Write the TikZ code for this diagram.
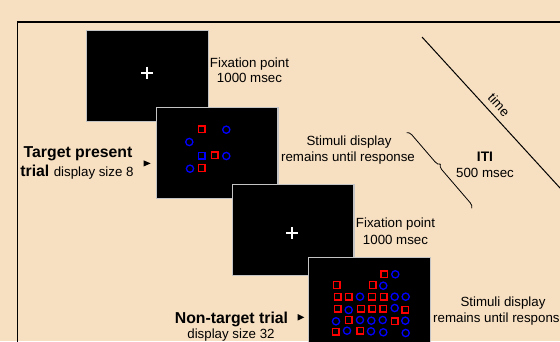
\documentclass[tikz,border=0pt]{standalone}
\usepackage{fontspec}
\setmainfont{Liberation Sans}
\usetikzlibrary{decorations.pathreplacing}
\definecolor{bg}{HTML}{F7DFC1}
\definecolor{scrborder}{HTML}{C4C4C4}
\definecolor{stimred}{HTML}{FF0000}
\definecolor{stimblue}{HTML}{0000FF}
\begin{document}
\begin{tikzpicture}[x=1pt,y=-1pt,
  screen/.style={draw=scrborder,fill=black,line width=1.2pt,minimum width=121.8pt,minimum height=90.8pt,inner sep=0pt},
  lbl/.style={font=\fontsize{13.3}{16}\selectfont,inner sep=0pt,anchor=base},
  blbl/.style={font=\fontsize{15.8}{18}\selectfont\bfseries,inner sep=0pt,anchor=base},
  sqr/.style={draw=stimred,line width=1.3pt},
  sqb/.style={draw=stimblue,line width=1.3pt},
  cir/.style={draw=stimblue,line width=1.3pt},
  crossline/.style={draw=white,line width=1.8pt},
  frame/.style={line width=1.3pt},
  timeline/.style={line width=1pt}]
\useasboundingbox (0,0) rectangle (560,341);
\clip (0,0) rectangle (560,341);
\fill[bg] (0,0) rectangle (560,341);
% frame
\draw[frame] (17.3,345) -- (17.3,22) -- (565,22);
% screens
\node[screen] (s1) at (147.5,76) {};
\draw[crossline] (141.3,72.7) -- (153.3,72.7) (147.3,66.7) -- (147.3,78.7);
\node[screen] (s2) at (217,153) {};
\foreach \x/\y in {201.7/129.3, 214.7/155.3, 201.7/168}
  \draw[sqr] (\x-3.4,\y-3.4) rectangle (\x+3.4,\y+3.4);
\foreach \x/\y in {201.7/155.7}
  \draw[sqb] (\x-3.4,\y-3.4) rectangle (\x+3.4,\y+3.4);
\foreach \x/\y in {226.3/129.7, 189.3/142, 226.3/156, 190/168.7}
  \draw[cir] (\x,\y) circle[radius=3.6pt];
\node[screen] (s3) at (293,230) {};
\draw[crossline] (286.3,233.3) -- (298.3,233.3) (292.3,227.3) -- (292.3,239.3);
\node[screen] (s4) at (369.5,303) {};
\foreach \x/\y in {384.3/274.3, 336.7/285, 372.7/285, 337.7/296.7, 348.7/296.7, 372/296.7, 383.7/296.7,
  337.7/308.7, 361/308.7, 372.3/308.7, 383.3/308.7, 405.3/309.7, 348.7/320, 394.7/321.3, 335.7/331.7, 360.3/330.7}
  \draw[sqr] (\x-3.4,\y-3.4) rectangle (\x+3.4,\y+3.4);
\foreach \x/\y in {395.3/274.3, 383.3/285.7, 360/296.7, 394.7/296.7, 405.7/296.7, 348.7/310, 394.7/308,
  336/321.3, 360/320, 371.3/320.7, 382.7/320, 405.3/320.7, 347/330.7, 371/331.3, 383.3/332.3, 405.7/333}
  \draw[cir] (\x,\y) circle[radius=3.6pt];
% texts
\node[lbl] (f1a) at (249.5,67) {Fixation point};
\node[lbl] (f1b) at (249.5,82.5) {1000 msec};
\node[lbl] (d1a) at (349,145.5) {Stimuli display};
\node[lbl] (d1b) at (348,161.3) {remains until response};
\node[lbl,font=\fontsize{13.8}{16}\selectfont\bfseries] (iti) at (485,161.5) {ITI};
\node[lbl] (itims) at (485,177) {500 msec};
\node[lbl] (f2a) at (395.5,227.7) {Fixation point};
\node[lbl] (f2b) at (395.5,244) {1000 msec};
\node[lbl] (d2a) at (503,306.5) {Stimuli display};
\node[lbl,anchor=base west] (d2b) at (433,322.3) {remains until response};
\node[blbl] (tp1) at (78,157.7) {Target present};
\node[blbl] (tp2) at (77,176) {trial {\mdseries\fontsize{13.3}{16}\selectfont display size 8}};
\node[blbl] (nt1) at (231.5,323.3) {Non-target trial};
\node[lbl] (nt2) at (231,338.5) {display size 32};
% arrow markers
\fill (143.5,160.3) -- (150.7,163.4) -- (143.5,166.5) -- cycle;
\fill (297.5,314) -- (304.3,317.3) -- (297.5,320.6) -- cycle;
% time axis
\coordinate (t0) at (422,37);
\coordinate (t1) at (575,204.4);
\draw[timeline] (t0) -- (t1);
\node[font=\fontsize{13.3}{16}\selectfont,rotate=-47.6,inner sep=0pt] (time) at (499,105) {time};
% brace
\coordinate (b0) at (406.7,132.7);
\coordinate (b1) at (471.7,208.3);
\draw[line width=0.8pt,decorate,decoration={brace,amplitude=5pt,aspect=0.46}] (b0) -- (b1);
\end{tikzpicture}
\end{document}
